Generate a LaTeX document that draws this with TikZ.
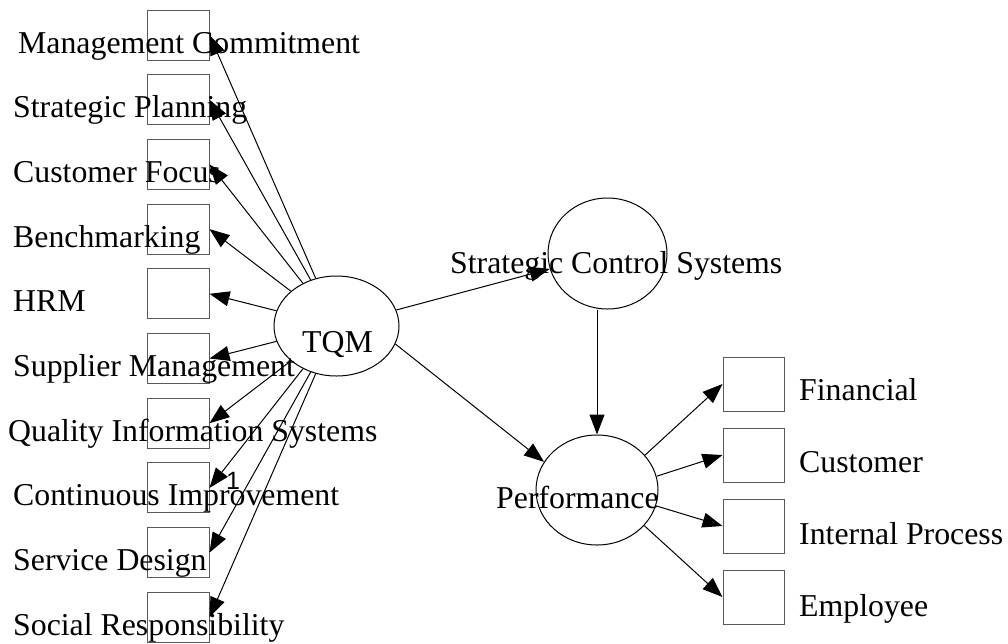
\documentclass[tikz,border=0pt]{standalone}
\usepackage{fontspec}
\setmainfont{Liberation Serif}
\newfontfamily\labsans{Liberation Sans}
\usetikzlibrary{arrows.meta,shapes.geometric}
\begin{document}
\begin{tikzpicture}[x=1pt,y=-1pt,
  box/.style={draw=black!65, line width=1pt, minimum width=62pt, minimum height=50pt, inner sep=0pt},
  rbox/.style={box, minimum width=61pt, minimum height=54pt},
  lat/.style={draw, ellipse, line width=1pt, inner sep=0pt},
  lbl/.style={anchor=base west, inner sep=0pt, font=\fontsize{31.8}{36}\selectfont},
  edge/.style={line width=1pt, -{Triangle[length=20pt,width=15pt]}}]
\useasboundingbox (0,0) rectangle (1008,643);
% left indicator boxes and labels
\foreach \i/\t/\x in {1/Management Commitment/18, 2/Strategic Planning/13, 3/Customer Focus/13,
  4/Benchmarking/13, 5/HRM/13, 6/Supplier Management/13, 7/Quality Information Systems/8,
  8/Continuous Improvement/13, 9/Service Design/13, 10/Social Responsibility/13}{
  \node[box] (b\i) at (178, {35+64.7*(\i-1)}) {};
  \node[lbl] (t\i) at (\x, {53+64.7*(\i-1)}) {\t};
}
% latent variables
\node[lat, minimum width=125pt, minimum height=100pt] (tqm) at (336.5,326) {};
\node[lbl] (ttqm) at (302,352) {TQM};
\node[lat, minimum width=119pt, minimum height=111pt] (scs) at (607.5,253.5) {};
\node[lbl] (tscs) at (450,273) {Strategic Control Systems};
\node[lat, minimum width=122pt, minimum height=110pt] (perf) at (597,490) {};
\node[lbl] (tperf) at (496,508) {Performance};
% right indicator boxes and labels
\foreach \i/\t in {1/Financial, 2/Customer, 3/Internal Process, 4/Employee}{
  \node[rbox] (r\i) at (753.5, {384+71*(\i-1)}) {};
  \node[lbl] (rt\i) at (799, {400+72*(\i-1)}) {\t};
}
% edges
\foreach \i in {1,...,10}{
  \draw[edge] (tqm) -- (b\i.east);
}
\node[inner sep=0pt, anchor=base, font=\labsans\fontsize{25}{28}\selectfont] (one) at (233,489) {1};
\draw[edge] (tqm) -- (scs);
\draw[edge] (tqm.-17) -- (perf.152);
\draw[edge] (scs.south -| perf.north) -- (perf.north);
\draw[edge] (perf.36) -- (r1.west);
\draw[edge] (perf.13) -- (r2.west);
\draw[edge] (perf.-15) -- (r3.west);
\draw[edge] (perf.-37) -- (r4.west);
\end{tikzpicture}
\end{document}
